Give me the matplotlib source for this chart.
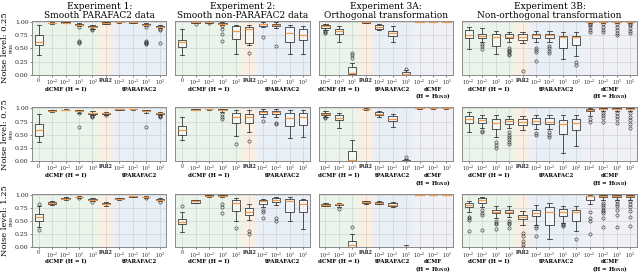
import numpy as np
import matplotlib
matplotlib.use("Agg")
import matplotlib.pyplot as plt
from matplotlib.transforms import blended_transform_factory

plt.rcParams['font.family'] = ['DejaVu Serif']
plt.rcParams['mathtext.fontset'] = 'dejavuserif'

# ---------------- data ----------------
NOISE_LEVELS = ["0.25", "0.75", "1.25"]
TITLES = ["Experiment 1:\nSmooth PARAFAC2 data",
          "Experiment 2:\nSmooth non-PARAFAC2 data",
          "Experiment 3A:\nOrthogonal transformation",
          "Experiment 3B:\nNon-orthogonal transformation"]

TICKS_E12 = ['0', '$10^{-2}$', '$10^{-1}$', '$10^{1}$', '$10^{2}$', 'PAR2',
             '$10^{-2}$', '$10^{-1}$', '$10^{1}$', '$10^{2}$']
TICKS_E3A = ['$10^{-2}$', '$10^{-1}$', '$10^{1}$', 'PAR2',
             '$10^{-2}$', '$10^{-1}$', '$10^{1}$',
             '$10^{-2}$', '$10^{-1}$', '$10^{1}$']
TICKS_E3B = ['$10^{-2}$', '$10^{-1}$', '$10^{1}$', '$10^{2}$', 'PAR2',
             '$10^{-2}$', '$10^{-1}$', '$10^{1}$', '$10^{2}$',
             '$10^{-2}$', '$10^{-1}$', '$10^{1}$', '$10^{2}$']

# group structure: (label, first index, last index, colour key)
GROUPS_E12 = [("dCMF (H = I)", 0, 4, 'g'), ("", 5, 5, 'o'), ("tPARAFAC2", 6, 9, 'b')]
GROUPS_E3A = [("dCMF (H = I)", 0, 2, 'g'), ("", 3, 3, 'o'), ("tPARAFAC2", 4, 6, 'b'),
              ("dCMF\n(H = H$_{\\mathbf{GND}}$)", 7, 9, 'l')]
GROUPS_E3B = [("dCMF (H = I)", 0, 3, 'g'), ("", 4, 4, 'o'), ("tPARAFAC2", 5, 8, 'b'),
              ("dCMF\n(H = H$_{\\mathbf{GND}}$)", 9, 12, 'l')]

# box statistics: (whislo, q1, median, q3, whishi)
P00_box = [(0.38, 0.57, 0.62, 0.76, 0.95), (0.97, 0.975, 0.98, 0.985, 0.99),
           (0.975, 0.98, 0.985, 0.99, 0.995), (0.92, 0.94, 0.95, 0.96, 0.975),
           (0.87, 0.90, 0.91, 0.92, 0.94), (0.955, 0.97, 0.98, 0.99, 1.0),
           (0.985, 0.99, 0.993, 0.996, 1.0), (0.98, 0.987, 0.99, 0.994, 0.998),
           (0.92, 0.94, 0.95, 0.96, 0.975), (0.88, 0.90, 0.91, 0.92, 0.94)]
P00_fl = [[], [], [], [0.60, 0.62, 0.64, 0.90], [0.85, 0.86], [], [], [],
          [0.58, 0.60, 0.61, 0.62, 0.64, 0.90], [0.61, 0.85, 0.86]]

P01_box = [(0.37, 0.53, 0.62, 0.66, 0.86), (0.98, 0.985, 0.99, 0.995, 1.0),
           (0.98, 0.985, 0.99, 0.995, 1.0), (0.94, 0.96, 0.97, 0.98, 0.99),
           (0.39, 0.68, 0.83, 0.92, 0.95), (0.56, 0.61, 0.86, 0.91, 0.95),
           (0.90, 0.93, 0.96, 0.97, 0.99), (0.88, 0.93, 0.95, 0.97, 0.99),
           (0.39, 0.63, 0.79, 0.91, 0.95), (0.39, 0.65, 0.76, 0.86, 0.93)]
P01_fl = [[], [0.97], [0.975], [0.93, 0.86, 0.77, 0.64], [], [0.42], [0.72], [0.55], [], []]

P02_box = [(0.84, 0.88, 0.92, 0.95, 0.96), (0.63, 0.77, 0.82, 0.86, 0.92),
           (0.0, 0.01, 0.03, 0.14, 0.23), (0.975, 0.985, 0.99, 0.995, 1.0),
           (0.84, 0.86, 0.90, 0.94, 0.96), (0.63, 0.73, 0.80, 0.83, 0.92),
           (0.0, 0.005, 0.02, 0.05, 0.09), (0.995, 0.997, 0.998, 0.999, 1.0),
           (0.995, 0.997, 0.998, 0.999, 1.0), (0.995, 0.997, 0.998, 0.999, 1.0)]
P02_fl = [[0.80, 0.81, 0.82], [], [0.31, 0.38, 0.42], [], [], [], [0.11], [], [], []]

P03_box = [(0.49, 0.69, 0.76, 0.85, 0.91), (0.63, 0.69, 0.74, 0.77, 0.89),
           (0.39, 0.54, 0.72, 0.77, 0.83), (0.63, 0.69, 0.72, 0.77, 0.81),
           (0.60, 0.65, 0.72, 0.77, 0.81), (0.62, 0.69, 0.75, 0.77, 0.83),
           (0.62, 0.69, 0.75, 0.78, 0.83), (0.30, 0.50, 0.71, 0.74, 0.81),
           (0.36, 0.56, 0.71, 0.74, 0.81), (0.98, 0.99, 0.995, 1.0, 1.0),
           (0.98, 0.99, 0.995, 1.0, 1.0), (0.98, 0.99, 0.995, 1.0, 1.0),
           (0.98, 0.99, 0.995, 1.0, 1.0)]
P03_fl = [[], [0.58, 0.54, 0.48], [], [0.50, 0.47, 0.45, 0.43, 0.40, 0.37], [0.07],
          [0.50, 0.47, 0.44, 0.27], [0.55, 0.51, 0.46, 0.41], [], [0.24, 0.18],
          [0.965, 0.94, 0.91, 0.84, 0.81], [0.965, 0.91, 0.85, 0.81],
          [0.965, 0.91, 0.85, 0.79, 0.75], [0.965, 0.94, 0.88, 0.82, 0.80]]

P10_box = [(0.37, 0.47, 0.58, 0.71, 0.89), (0.93, 0.94, 0.95, 0.96, 0.97),
           (0.96, 0.965, 0.97, 0.975, 0.98), (0.92, 0.94, 0.95, 0.96, 0.97),
           (0.87, 0.90, 0.91, 0.92, 0.94), (0.88, 0.90, 0.91, 0.92, 0.93),
           (0.97, 0.975, 0.98, 0.985, 0.99), (0.975, 0.98, 0.985, 0.99, 0.995),
           (0.92, 0.94, 0.95, 0.96, 0.97), (0.88, 0.90, 0.91, 0.92, 0.93)]
P10_fl = [[], [], [], [0.64, 0.91], [0.84, 0.85, 0.86], [0.87], [], [],
          [0.64], [0.84, 0.85, 0.86]]

P11_box = [(0.40, 0.49, 0.58, 0.66, 0.84), (0.96, 0.97, 0.975, 0.98, 0.99),
           (0.97, 0.98, 0.985, 0.99, 0.995), (0.93, 0.96, 0.97, 0.98, 0.99),
           (0.47, 0.72, 0.84, 0.91, 0.96), (0.55, 0.73, 0.83, 0.90, 0.96),
           (0.84, 0.89, 0.93, 0.95, 0.98), (0.84, 0.89, 0.93, 0.95, 0.98),
           (0.43, 0.66, 0.81, 0.91, 0.96), (0.45, 0.68, 0.84, 0.92, 0.96)]
P11_fl = [[], [], [], [0.89, 0.84, 0.80], [0.33], [0.39], [0.76], [0.70, 0.73], [], []]

P12_box = [(0.84, 0.88, 0.90, 0.92, 0.94), (0.62, 0.77, 0.82, 0.87, 0.92),
           (0.0, 0.01, 0.03, 0.20, 0.40), (0.97, 0.98, 0.985, 0.99, 1.0),
           (0.84, 0.87, 0.90, 0.93, 0.95), (0.64, 0.76, 0.80, 0.86, 0.90),
           (0.0, 0.003, 0.01, 0.02, 0.05), (0.995, 0.997, 0.998, 0.999, 1.0),
           (0.995, 0.997, 0.998, 0.999, 1.0), (0.995, 0.997, 0.998, 0.999, 1.0)]
P12_fl = [[0.82, 0.83], [], [], [], [], [], [0.08], [], [], []]

P13_box = [(0.56, 0.72, 0.80, 0.85, 0.93), (0.62, 0.72, 0.77, 0.82, 0.88),
           (0.45, 0.60, 0.72, 0.79, 0.88), (0.62, 0.71, 0.76, 0.80, 0.86),
           (0.58, 0.68, 0.74, 0.79, 0.86), (0.60, 0.70, 0.76, 0.82, 0.88),
           (0.60, 0.70, 0.75, 0.81, 0.88), (0.15, 0.52, 0.70, 0.78, 0.88),
           (0.28, 0.58, 0.72, 0.80, 0.88), (0.86, 0.94, 0.97, 0.99, 1.0),
           (0.95, 0.98, 0.99, 1.0, 1.0), (0.95, 0.98, 0.99, 1.0, 1.0),
           (0.95, 0.98, 0.99, 1.0, 1.0)]
P13_fl = [[], [0.57, 0.55], [0.36, 0.30, 0.25], [0.55, 0.50, 0.46, 0.42, 0.37, 0.32], [],
          [0.53, 0.50], [0.55, 0.50, 0.46], [], [], [0.80, 0.75],
          [0.91, 0.87, 0.82, 0.74], [0.92, 0.86, 0.80, 0.72], [0.91, 0.84, 0.77, 0.70, 0.62]]

P20_box = [(0.38, 0.51, 0.58, 0.63, 0.78), (0.80, 0.82, 0.84, 0.86, 0.88),
           (0.89, 0.91, 0.92, 0.94, 0.95), (0.94, 0.95, 0.955, 0.96, 0.97),
           (0.87, 0.89, 0.90, 0.92, 0.93), (0.79, 0.82, 0.83, 0.85, 0.86),
           (0.89, 0.91, 0.92, 0.93, 0.94), (0.95, 0.96, 0.965, 0.97, 0.98),
           (0.94, 0.95, 0.955, 0.96, 0.97), (0.87, 0.89, 0.90, 0.92, 0.93)]
P20_fl = [[0.82, 0.34], [], [], [0.93], [0.86], [], [], [], [0.93], [0.86]]

P21_box = [(0.29, 0.44, 0.49, 0.54, 0.67), (0.84, 0.85, 0.87, 0.89, 0.90),
           (0.96, 0.97, 0.98, 0.99, 0.995), (0.95, 0.97, 0.98, 0.99, 0.995),
           (0.51, 0.69, 0.84, 0.90, 0.94), (0.52, 0.62, 0.68, 0.75, 0.83),
           (0.76, 0.82, 0.87, 0.89, 0.91), (0.81, 0.86, 0.90, 0.93, 0.95),
           (0.50, 0.68, 0.87, 0.91, 0.95), (0.35, 0.67, 0.82, 0.89, 0.92)]
P21_fl = [[0.78], [], [], [0.82, 0.76, 0.66], [0.36], [0.31, 0.26],
          [0.70, 0.67, 0.56], [0.55, 0.50], [], []]

P22_box = [(0.78, 0.79, 0.81, 0.83, 0.84), (0.77, 0.80, 0.82, 0.83, 0.84),
           (0.0, 0.01, 0.04, 0.13, 0.25), (0.83, 0.84, 0.855, 0.87, 0.88),
           (0.82, 0.83, 0.845, 0.86, 0.87), (0.76, 0.78, 0.81, 0.84, 0.86),
           (0.0, 0.002, 0.005, 0.01, 0.04), (0.99, 0.993, 0.995, 0.997, 1.0),
           (0.99, 0.993, 0.995, 0.997, 1.0), (0.99, 0.993, 0.995, 0.997, 1.0)]
P22_fl = [[], [0.73], [0.38], [], [], [], [], [], [], []]

P23_box = [(0.67, 0.76, 0.81, 0.84, 0.88), (0.76, 0.84, 0.90, 0.94, 0.96),
           (0.56, 0.65, 0.68, 0.71, 0.79), (0.57, 0.65, 0.68, 0.71, 0.79),
           (0.43, 0.53, 0.58, 0.62, 0.69), (0.43, 0.59, 0.66, 0.71, 0.80),
           (0.17, 0.43, 0.67, 0.76, 0.84), (0.47, 0.60, 0.68, 0.72, 0.79),
           (0.31, 0.51, 0.67, 0.70, 0.78), (0.82, 0.90, 0.97, 0.98, 1.0),
           (0.90, 0.96, 0.98, 1.0, 1.0), (0.90, 0.96, 0.98, 1.0, 1.0),
           (0.90, 0.96, 0.98, 1.0, 1.0)]
P23_fl = [[0.58, 0.55, 0.52, 0.31], [0.70, 0.65, 0.61, 0.34], [0.50, 0.47, 0.44, 0.35],
          [0.50, 0.46, 0.44, 0.36], [0.28, 0.22, 0.13, 0.07, 0.01], [0.40, 0.37, 0.22],
          [], [0.45, 0.42, 0.40], [0.17], [0.67, 0.55, 0.50, 0.25],
          [0.85, 0.80, 0.76, 0.71, 0.69, 0.66, 0.56, 0.38],
          [0.87, 0.82, 0.78, 0.70, 0.61, 0.38], [0.88, 0.82, 0.76, 0.69, 0.57, 0.41]]

PANELS = [[(P00_box, P00_fl), (P01_box, P01_fl), (P02_box, P02_fl), (P03_box, P03_fl)],
          [(P10_box, P10_fl), (P11_box, P11_fl), (P12_box, P12_fl), (P13_box, P13_fl)],
          [(P20_box, P20_fl), (P21_box, P21_fl), (P22_box, P22_fl), (P23_box, P23_fl)]]
COL_TICKS = [TICKS_E12, TICKS_E12, TICKS_E3A, TICKS_E3B]
COL_GROUPS = [GROUPS_E12, GROUPS_E12, GROUPS_E3A, GROUPS_E3B]

# ---------------- style ----------------
BG = {'g': (0.925, 0.960, 0.920), 'o': (0.992, 0.935, 0.880),
      'b': (0.915, 0.940, 0.970), 'l': (0.945, 0.945, 0.970)}
EDGE = '#3a3a3a'
MED = '#f39a4a'
YMAX = 1.02

fig = plt.figure(figsize=(6.4, 2.75), dpi=100)
gs = fig.add_gridspec(3, 4, width_ratios=[10, 10, 10, 13], left=0.05, right=0.995,
                      top=0.924, bottom=0.1, wspace=0.062, hspace=0.6)


def draw_background(ax, groups, n):
    xs = np.linspace(-0.5, n - 0.5, 60 * n)
    img = np.ones((len(xs), 3))
    for _, a, b, key in groups:
        m = (xs >= a - 0.5) & (xs <= b + 0.5)
        img[m] = BG[key]
    sig = 0.18 * 60
    k = np.exp(-0.5 * (np.arange(-40, 41) / sig) ** 2)
    k /= k.sum()
    pad = np.pad(img, ((40, 40), (0, 0)), mode='edge')
    sm = np.stack([np.convolve(pad[:, c], k, mode='valid') for c in range(3)], axis=1)
    ax.imshow(sm[None, :, :], extent=(-0.5, n - 0.5, 0, YMAX), aspect='auto',
              zorder=0, interpolation='bilinear')


for r in range(3):
    for c in range(4):
        ax = fig.add_subplot(gs[r, c])
        boxes, fliers = PANELS[r][c]
        ticks = COL_TICKS[c]
        groups = COL_GROUPS[c]
        n = len(ticks)
        draw_background(ax, groups, n)
        stats = []
        for (lo, q1, med, q3, hi), fl in zip(boxes, fliers):
            stats.append(dict(whislo=lo, q1=q1, med=med, q3=q3, whishi=hi, fliers=fl))
        ax.bxp(stats, positions=np.arange(n), widths=0.62, patch_artist=True,
               manage_ticks=False, zorder=3,
               boxprops=dict(facecolor=(1, 1, 1, 0.55), edgecolor=EDGE, linewidth=0.6),
               whiskerprops=dict(color=EDGE, linewidth=0.6),
               capprops=dict(color=EDGE, linewidth=0.6),
               medianprops=dict(color=MED, linewidth=0.9),
               flierprops=dict(marker='o', markersize=2.3, markerfacecolor='none',
                               markeredgecolor=EDGE, markeredgewidth=0.45))
        ax.set_xlim(-0.5, n - 0.5)
        ax.set_ylim(0, YMAX)
        ax.set_yticks([0, 0.25, 0.5, 0.75, 1.0])
        ax.set_xticks(np.arange(n))
        ax.set_xticklabels(ticks)
        for lab, txt in zip(ax.get_xticklabels(), ticks):
            if txt == 'PAR2':
                lab.set_fontweight('bold')
        ax.grid(True, color='#d2d2d2', linewidth=0.5, zorder=1)
        ax.set_axisbelow(True)
        ax.tick_params(axis='x', labelsize=3.4, length=1.5, width=0.4, pad=0.6,
                       colors='#222222')
        if c == 0:
            ax.tick_params(axis='y', labelsize=4.4, length=1.5, width=0.4, pad=1,
                           colors='#222222')
            ax.set_yticklabels(['0.00', '0.25', '0.50', '0.75', '1.00'])
            ax.set_ylabel('FMS', fontsize=3.0, labelpad=1.0)
        else:
            ax.tick_params(axis='y', labelleft=False, length=0)
        for s in ax.spines.values():
            s.set_color('#8a8a8a')
            s.set_linewidth(0.7)
        tr = blended_transform_factory(ax.transData, ax.transAxes)
        for label, a, b, key in groups:
            if label:
                ax.text((a + b) / 2, -0.22, label, transform=tr, ha='center', va='top',
                        fontsize=4.0, fontweight='bold', linespacing=0.95)
        if r == 0:
            ax.set_title(TITLES[c], fontsize=6.5, pad=2, linespacing=1.0)
        if c == 0:
            pos = ax.get_position()
            fig.text(0.0075, (pos.y0 + pos.y1) / 2, 'Noise level: ' + NOISE_LEVELS[r],
                     rotation=90, ha='center', va='center', fontsize=6.0)

fig.savefig('out.png', dpi=100)
